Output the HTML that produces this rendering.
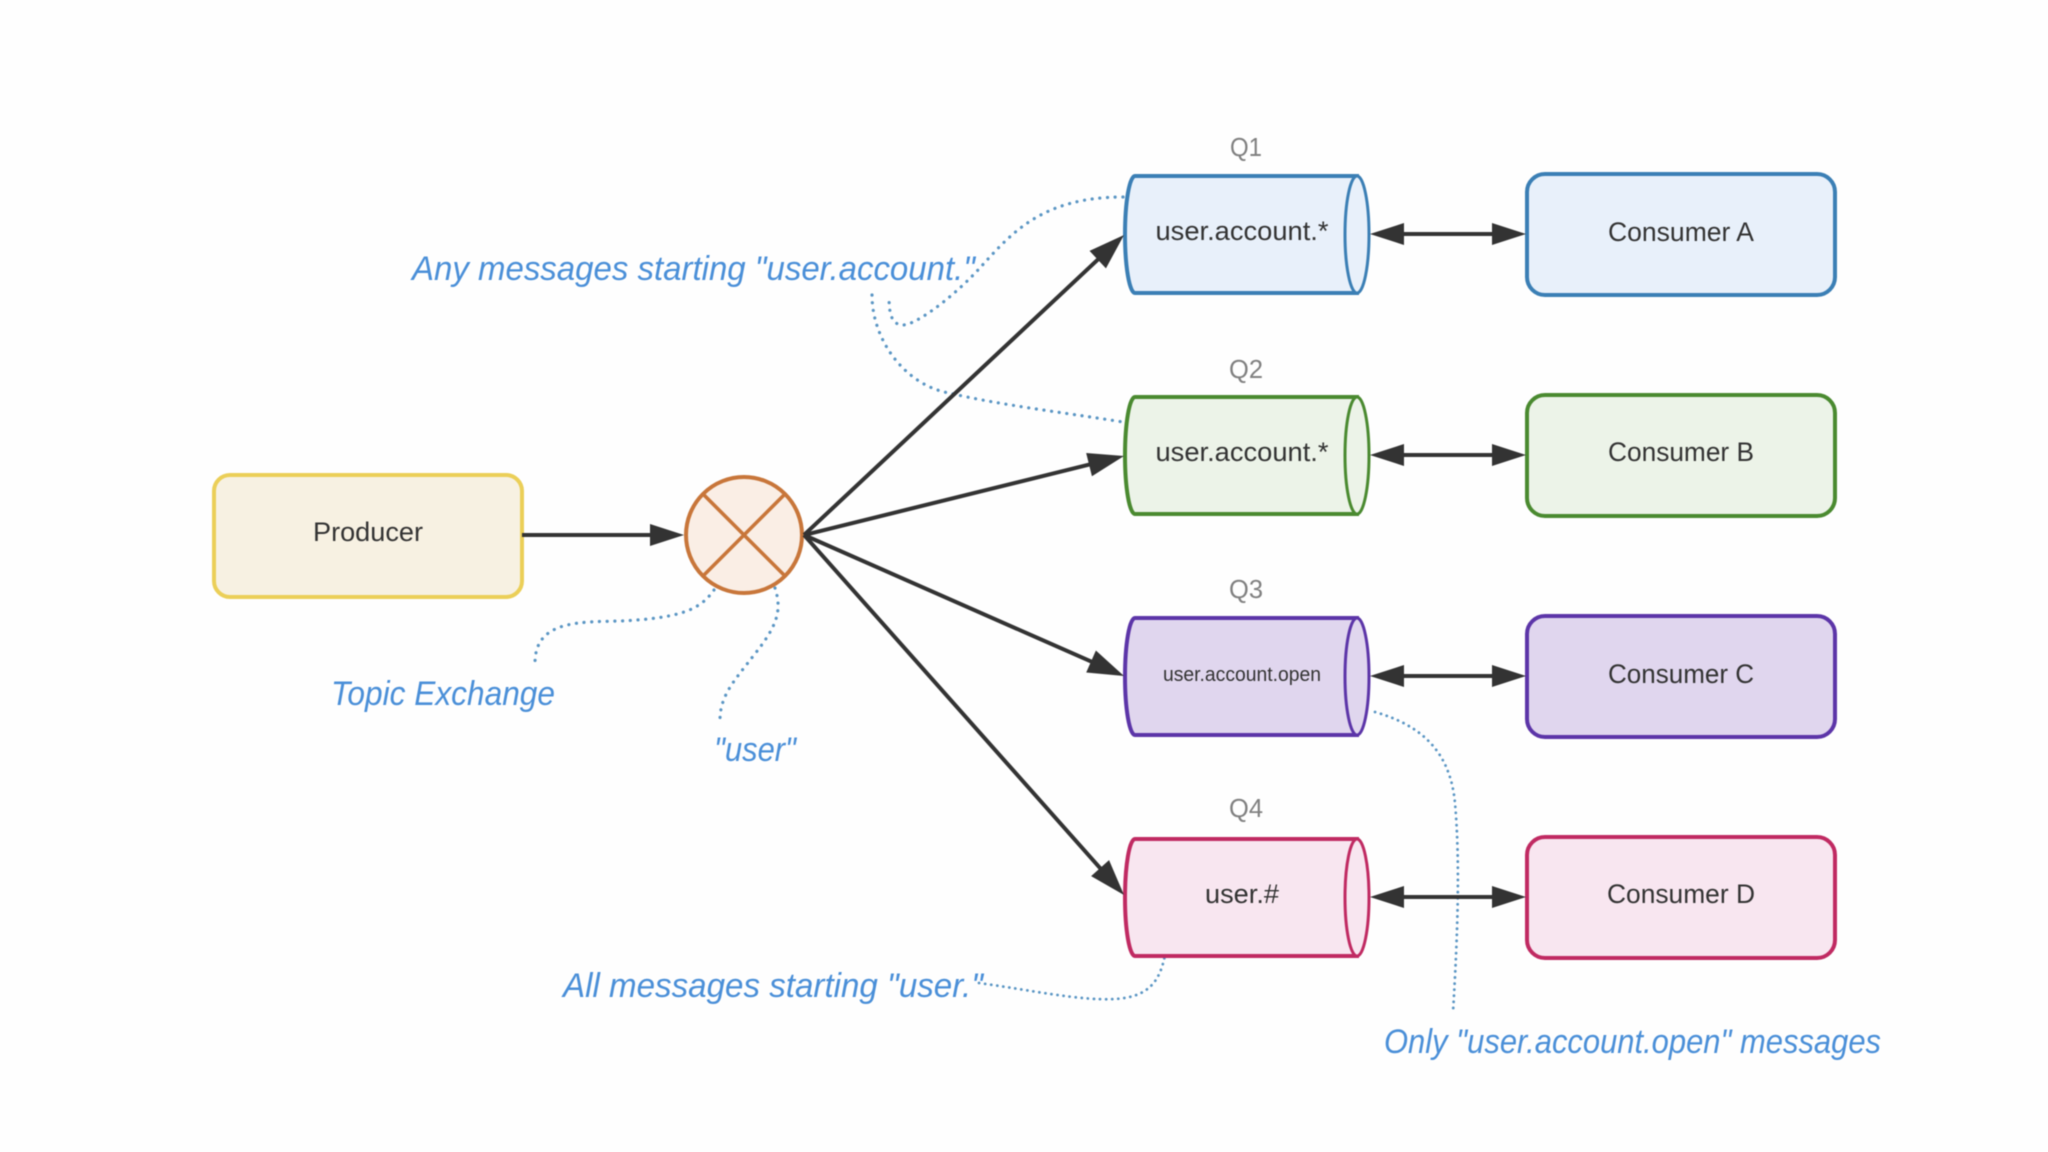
<!DOCTYPE html>
<html>
<head>
<meta charset="utf-8">
<style>
html,body{margin:0;padding:0;background:#fefefe;}
svg{display:block;filter:blur(0.4px);}
text{font-family:"Liberation Sans",sans-serif;}
.lbl{fill:#333;font-size:27px;text-anchor:middle;}
.q{fill:#808080;font-size:26px;text-anchor:middle;}
.h{fill:#4a8fd8;font-size:34px;font-style:italic;}
.d{fill:none;stroke:#5b96c4;stroke-width:3.2;stroke-linecap:round;stroke-dasharray:0.1 7.6;}
.d2{fill:none;stroke:#5b96c4;stroke-width:2.8;stroke-linecap:round;stroke-dasharray:0.1 6;}
.ar line{stroke:#333;stroke-width:4;}
.ar polygon{fill:#333;}
</style>
</head>
<body>
<svg width="2048" height="1152" viewBox="0 0 2048 1152" xmlns="http://www.w3.org/2000/svg">
<rect width="2048" height="1152" fill="#fefefe"/>

<!-- dotted connectors -->
<path class="d" d="M1123 197 C1040 197 1010 235 978 270 C950 300 915 325 903 325 C890 325 889 310 889 295"/>
<path class="d" d="M872 295 C872 340 905 385 949 393 C1000 405 1060 412 1123 422"/>
<path class="d" d="M714 590 C700 610 680 618 621 621 C580 622 535 620 535 663"/>
<path class="d" d="M775 588 C782 610 778 625 754 655 C735 680 720 695 720 720"/>
<path class="d2" d="M1375 712 C1420 725 1450 750 1455 803 C1460 860 1458 930 1453 1012"/>
<path class="d2" d="M979 983 C1030 990 1080 1001 1115 999 C1150 997 1160 980 1165 955"/>

<!-- producer -->
<rect x="214" y="475" width="308" height="122" rx="16" fill="#f7f1e2" stroke="#ebcf58" stroke-width="4"/>
<text class="lbl" x="368" y="541" textLength="110" lengthAdjust="spacingAndGlyphs">Producer</text>

<!-- exchange -->
<circle cx="744" cy="535" r="58" fill="#faeee5" stroke="#c8763a" stroke-width="4"/>
<path d="M703 494 L785 576 M785 494 L703 576" stroke="#c8763a" stroke-width="3.6" fill="none"/>

<!-- Q1 -->
<text class="q" x="1246" y="156" textLength="32" lengthAdjust="spacingAndGlyphs">Q1</text>
<g fill="#e8f0fa" stroke="#3b7fb5" stroke-width="4">
<path d="M1357 176 H1135 A10 58.5 0 0 0 1135 293 H1357 Z"/>
<ellipse cx="1357" cy="234.5" rx="12" ry="58.5" stroke-width="3"/>
<rect x="1527" y="174" width="308" height="121" rx="18"/>
</g>
<text class="lbl" x="1242" y="240" textLength="173" lengthAdjust="spacingAndGlyphs">user.account.*</text>
<text class="lbl" x="1681" y="241" textLength="146" lengthAdjust="spacingAndGlyphs">Consumer A</text>

<!-- Q2 -->
<text class="q" x="1246" y="378" textLength="34" lengthAdjust="spacingAndGlyphs">Q2</text>
<g fill="#ecf3e8" stroke="#4a8a30" stroke-width="4">
<path d="M1357 397 H1135 A10 58.5 0 0 0 1135 514 H1357 Z"/>
<ellipse cx="1357" cy="455.5" rx="12" ry="58.5" stroke-width="3"/>
<rect x="1527" y="395" width="308" height="121" rx="18"/>
</g>
<text class="lbl" x="1242" y="461" textLength="173" lengthAdjust="spacingAndGlyphs">user.account.*</text>
<text class="lbl" x="1681" y="461" textLength="146" lengthAdjust="spacingAndGlyphs">Consumer B</text>

<!-- Q3 -->
<text class="q" x="1246" y="598" textLength="34" lengthAdjust="spacingAndGlyphs">Q3</text>
<g fill="#e0d6ee" stroke="#5c35a8" stroke-width="4">
<path d="M1357 618 H1135 A10 58.5 0 0 0 1135 735 H1357 Z"/>
<ellipse cx="1357" cy="676.5" rx="12" ry="58.5" stroke-width="3"/>
<rect x="1527" y="616" width="308" height="121" rx="18"/>
</g>
<text class="lbl" style="font-size:20px" x="1242" y="681" textLength="158" lengthAdjust="spacingAndGlyphs">user.account.open</text>
<text class="lbl" x="1681" y="683" textLength="146" lengthAdjust="spacingAndGlyphs">Consumer C</text>

<!-- Q4 -->
<text class="q" x="1246" y="817" textLength="34" lengthAdjust="spacingAndGlyphs">Q4</text>
<g fill="#f8e6f0" stroke="#c02a62" stroke-width="4">
<path d="M1357 839 H1135 A10 58.5 0 0 0 1135 956 H1357 Z"/>
<ellipse cx="1357" cy="897.5" rx="12" ry="58.5" stroke-width="3"/>
<rect x="1527" y="837" width="308" height="121" rx="18"/>
</g>
<text class="lbl" x="1242" y="903" textLength="74" lengthAdjust="spacingAndGlyphs">user.#</text>
<text class="lbl" x="1681" y="903" textLength="148" lengthAdjust="spacingAndGlyphs">Consumer D</text>

<!-- arrows -->
<g class="ar">
<line x1="522" y1="535" x2="655" y2="535"/><polygon points="684,535 650,524 650,546"/>
<g transform="translate(1124,235) rotate(-43.15)"><line x1="-438.6" y1="0" x2="-28" y2="0"/><polygon points="0,0 -36,-12 -36,12"/></g>
<g transform="translate(1124,456) rotate(-13.87)"><line x1="-329.6" y1="0" x2="-28" y2="0"/><polygon points="0,0 -36,-12 -36,12"/></g>
<g transform="translate(1124,676) rotate(23.78)"><line x1="-349.7" y1="0" x2="-28" y2="0"/><polygon points="0,0 -36,-12 -36,12"/></g>
<g transform="translate(1124,895) rotate(48.37)"><line x1="-481.7" y1="0" x2="-28" y2="0"/><polygon points="0,0 -36,-12 -36,12"/></g>

<line x1="1395" y1="234" x2="1500" y2="234"/><polygon points="1370,234 1404,223 1404,245"/><polygon points="1526,234 1492,223 1492,245"/>
<line x1="1395" y1="455" x2="1500" y2="455"/><polygon points="1370,455 1404,444 1404,466"/><polygon points="1526,455 1492,444 1492,466"/>
<line x1="1395" y1="676" x2="1500" y2="676"/><polygon points="1370,676 1404,665 1404,687"/><polygon points="1526,676 1492,665 1492,687"/>
<line x1="1395" y1="897" x2="1500" y2="897"/><polygon points="1370,897 1404,886 1404,908"/><polygon points="1526,897 1492,886 1492,908"/>
</g>

<!-- handwriting notes -->
<text class="h" x="412" y="280" textLength="563" lengthAdjust="spacingAndGlyphs">Any messages starting "user.account."</text>
<text class="h" x="331" y="705" textLength="224" lengthAdjust="spacingAndGlyphs">Topic Exchange</text>
<text class="h" x="714" y="761" textLength="82" lengthAdjust="spacingAndGlyphs">"user"</text>
<text class="h" x="563" y="997" textLength="420" lengthAdjust="spacingAndGlyphs">All messages starting "user."</text>
<text class="h" x="1384" y="1053" textLength="497" lengthAdjust="spacingAndGlyphs">Only "user.account.open" messages</text>
</svg>
</body>
</html>
